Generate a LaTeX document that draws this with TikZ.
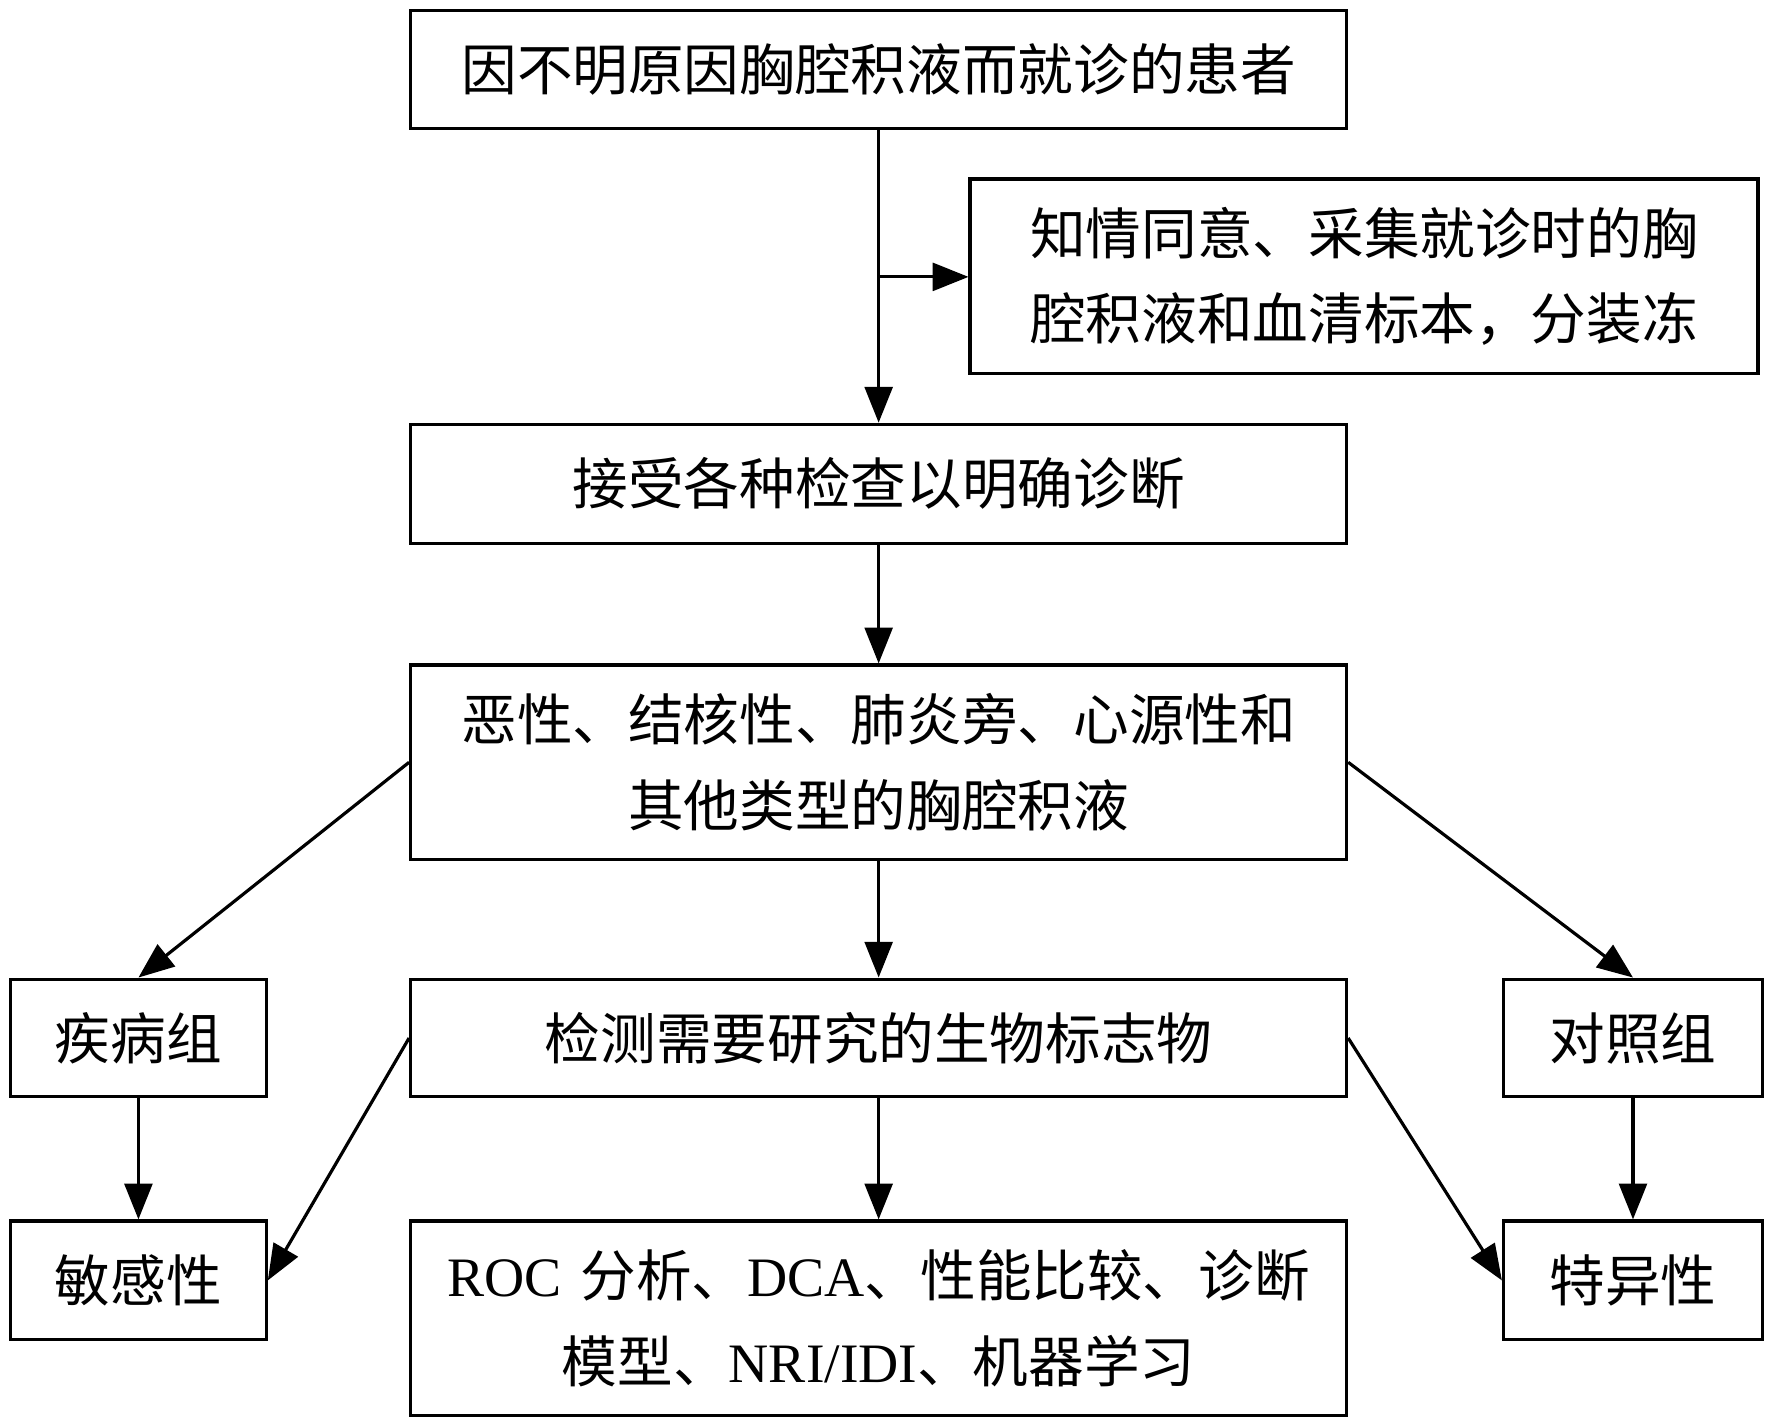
\documentclass[tikz,border=0pt]{standalone}
\usepackage{fontspec}
\setmainfont{Liberation Serif}
\newfontfamily\cjk{Noto Sans CJK SC}
\usetikzlibrary{arrows.meta}
\begin{document}
\begin{tikzpicture}[x=0.01cm,y=-0.01cm,
  box/.style={draw,line width=0.8pt,inner sep=0pt,align=center,font=\fontsize{14}{21.5}\selectfont\cjk},
  arr/.style={line width=0.8pt,-{Triangle[length=9pt,width=7pt]}}]
\useasboundingbox (0,0) rectangle (1568,1262);
\newcommand{\bx}[6]{\node[box,text width=#4*0.01cm-0.8pt,minimum height=#5*0.01cm-0.8pt,anchor=north west] (#1) at (#2,#3) {#6};}
\bx{A}{362}{8}{831}{107}{因不明原因胸腔积液而就诊的患者}
\bx{B}{857}{157}{700}{175}{知情同意、采集就诊时的胸\\腔积液和血清标本，分装冻}
\bx{C}{362}{374}{831}{108}{接受各种检查以明确诊断}
\bx{D}{362}{587}{831}{175}{恶性、结核性、肺炎旁、心源性和\\其他类型的胸腔积液}
\bx{E1}{8}{865}{229}{107}{疾病组}
\bx{E2}{362}{865}{831}{107}{检测需要研究的生物标志物}
\bx{E3}{1329}{865}{232}{107}{对照组}
\bx{F1}{8}{1079}{229}{108}{敏感性}
\bx{F2}{362}{1079}{831}{175}{{\rmfamily ROC} 分析、{\rmfamily DCA}、性能比较、诊断\\模型、{\rmfamily NRI/IDI}、机器学习}
\bx{F3}{1329}{1079}{232}{108}{特异性}
\coordinate (J) at (778,245);
\draw[arr] (A.south) -- (C.north);
\draw[arr] (J) -- (B.west |- J);
\draw[arr] (C) -- (D);
\draw[arr] (D.west) -- (E1.north);
\draw[arr] (D.east) -- (E3.north);
\draw[arr] (D) -- (E2);
\draw[arr] (E2.west) -- (F1.east);
\draw[arr] (E2.east) -- (F3.west);
\draw[arr] (E2) -- (F2);
\draw[arr] (E1) -- (F1);
\draw[arr] (E3) -- (F3);
\end{tikzpicture}
\end{document}
